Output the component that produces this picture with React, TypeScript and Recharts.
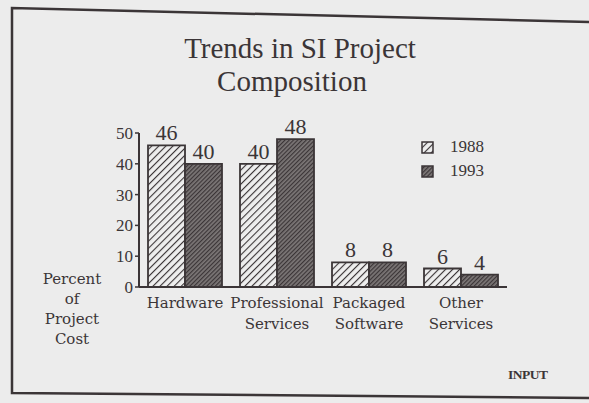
import React from "react";
import { BarChart, Bar, XAxis, YAxis, LabelList, Legend } from "recharts";

// ink of the scanned page and the paper behind it
const INK = "#3b3537";
const PAPER = "#ececec";

const categories = ["Hardware", "Professional\nServices", "Packaged\nSoftware", "Other\nServices"];
const values1988 = [46, 40, 8, 6];
const values1993 = [40, 48, 8, 4];
const yTicks = [0, 10, 20, 30, 40, 50];
const titleLines = ["Trends in SI Project", "Composition"];
const yLabelLines = ["Percent", "of", "Project", "Cost"];

const data = categories.map((name, i) => ({
  name,
  y1988: values1988[i],
  y1993: values1993[i],
}));

const CategoryTick = (props: any) => {
  const { x, y, payload } = props;
  const lines = String(payload.value).split("\n");
  return (
    <text x={x} y={y} textAnchor="middle" fontFamily="DejaVu Serif" fontSize={15} fill={INK}>
      {lines.map((line, i) => (
        <tspan key={i} x={x} dy={21}>
          {line}
        </tspan>
      ))}
    </text>
  );
};

const renderLegend = (props: any) => {
  const { payload } = props;
  return (
    <div style={{ fontFamily: "Liberation Serif", fontSize: 17, color: INK }}>
      {(payload || []).map((entry: any) => (
        <div key={entry.value} style={{ display: "flex", alignItems: "center", height: 24 }}>
          <svg width={13} height={13}>
            <rect x={1} y={1} width={11} height={11} fill={entry.color} stroke={INK} strokeWidth={1.5} />
          </svg>
          <span style={{ marginLeft: 16 }}>{entry.value}</span>
        </div>
      ))}
    </div>
  );
};

export default function App() {
  return (
    <div style={{ position: "absolute", left: 0, top: 0, width: 589, height: 403, background: PAPER, overflow: "hidden" }}>
      <svg width={589} height={403} style={{ position: "absolute", left: 0, top: 0 }}>
        <defs>
          <pattern id="hatch1988" patternUnits="userSpaceOnUse" width={5} height={5} patternTransform="rotate(45)">
            <rect width={5} height={5} fill="#eeeeee" />
            <line x1={0} y1={0} x2={0} y2={5} stroke={INK} strokeWidth={2.2} />
          </pattern>
          <pattern id="hatch1993" patternUnits="userSpaceOnUse" width={3} height={3} patternTransform="rotate(45)">
            <rect width={3} height={3} fill="#7c7777" />
            <line x1={0} y1={0} x2={0} y2={3} stroke={INK} strokeWidth={2.4} />
          </pattern>
        </defs>
        {/* scanned frame */}
        <path d="M 589 22 L 12 8 L 12 393 L 589 398" fill="none" stroke={INK} strokeWidth={2.5} />
        <g fontFamily="Liberation Serif" fontSize={29} fill={INK} textAnchor="middle">
          <text x={300} y={58}>{titleLines[0]}</text>
          <text x={292} y={91}>{titleLines[1]}</text>
        </g>
        <g fontFamily="DejaVu Serif" fontSize={15} fill={INK} textAnchor="middle">
          {yLabelLines.map((line, i) => (
            <text key={line} x={72} y={284 + i * 20}>
              {line}
            </text>
          ))}
        </g>
        <text x={508} y={379} fontFamily="Liberation Serif" fontWeight="bold" fontSize={13.5} fill={INK} letterSpacing={-0.5}>
          INPUT
        </text>
      </svg>
      <div style={{ position: "absolute", left: 0, top: 0 }}>
        <BarChart
          width={589}
          height={403}
          data={data}
          margin={{ top: 133, right: 82, bottom: 66, left: 99 }}
          barCategoryGap={9}
          barGap={0}
        >
          <XAxis
            dataKey="name"
            tick={<CategoryTick />}
            tickLine={false}
            tickSize={0}
            tickMargin={0}
            interval={0}
            height={50}
            axisLine={{ stroke: INK, strokeWidth: 2 }}
          />
          <YAxis
            domain={[0, 50]}
            ticks={yTicks}
            width={40}
            tickSize={4}
            tickMargin={2}
            axisLine={{ stroke: INK, strokeWidth: 2 }}
            tickLine={{ stroke: INK, strokeWidth: 1.5 }}
            tick={{ fontFamily: "Liberation Serif", fontSize: 17, fill: INK }}
          />
          <Legend
            layout="vertical"
            align="center"
            verticalAlign="middle"
            content={renderLegend}
            wrapperStyle={{ left: 421, top: 135, width: 80, height: 48 }}
          />
          <Bar dataKey="y1988" name="1988" fill="url(#hatch1988)" stroke={INK} strokeWidth={1.8} isAnimationActive={false}>
            <LabelList dataKey="y1988" position="top" offset={5} fill={INK} fontFamily="Liberation Serif" fontSize={22} />
          </Bar>
          <Bar dataKey="y1993" name="1993" fill="url(#hatch1993)" stroke={INK} strokeWidth={1.8} isAnimationActive={false}>
            <LabelList dataKey="y1993" position="top" offset={5} fill={INK} fontFamily="Liberation Serif" fontSize={22} />
          </Bar>
        </BarChart>
      </div>
    </div>
  );
}
